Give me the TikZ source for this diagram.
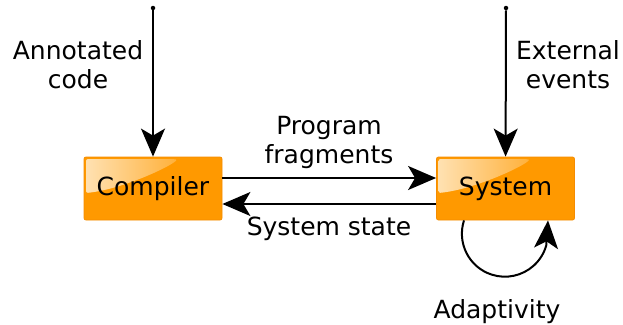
\documentclass[tikz,border=0pt]{standalone}
\usepackage{fontspec}
\setmainfont{DejaVu Sans}
\usetikzlibrary{positioning,calc}
\usetikzlibrary{arrows.meta}
\definecolor{BoxOrange}{RGB}{255,153,0}
\definecolor{BoxEdge}{RGB}{245,140,0}
\definecolor{GlossTop}{RGB}{255,226,180}
\tikzset{
	block/.style={draw=BoxEdge,fill=BoxOrange,rounded corners=2pt,line width=0.8pt,
		minimum width=138,minimum height=63,inner sep=0pt,font=\fontsize{25}{29}\selectfont,
		path picture={
			\shade[left color=GlossTop,right color=BoxOrange]
			($(path picture bounding box.north west)+(2,-2)$) -- ++(88,0)
			.. controls ++(8,-2) and ++(40,4) .. ($(path picture bounding box.north west)+(2,-36)$) -- cycle;
		}},
	flow/.style={draw=black,line width=2pt,-{Stealth[length=28pt,width=24pt,inset=7pt]}},
	tag/.style={align=center,font=\fontsize{25}{29}\selectfont,inner sep=0pt},
	src/.style={circle,fill=black,inner sep=0pt,minimum size=4.5pt},
}
\begin{document}
\begin{tikzpicture}[x=1pt,y=1pt]
	\useasboundingbox (0,0) rectangle (623,-324);
	\node[block] (comp) at (153,-188.5) {Compiler};
	\node[block] (sys) at (505.5,-188.5) {System};
	\node[src] (in1) at (153,-8) {};
	\node[src] (in2) at (506,-8) {};
	% inputs from above
	\draw[flow] (in1) -- (comp);
	\draw[flow] (in2) -- (sys);
	\node[tag] (ann) at (78,-64.5) {Annotated\\code};
	\node[tag] (ext) at (568,-64.5) {External\\events};
	% exchange between the two blocks
	\draw[flow] ([yshift=10.5]comp.east) -- ([yshift=10.5]sys.west);
	\draw[flow] ([yshift=-15.5]sys.west) -- ([yshift=-15.5]comp.east);
	\node[tag] (frag) at (329,-142) {Program\\fragments};
	\node[tag] (state) at (329,-228.5) {System state};
	% self loop below the system
	\coordinate (lp1) at ([xshift=-41.5]sys.south);
	\coordinate (lp2) at ([xshift=42.5]sys.south);
	\draw[flow] (lp1) arc[start angle=162,end angle=344,radius=43] -- (lp2);
	\node[tag] (adapt) at (497,-312) {Adaptivity};
\end{tikzpicture}
\end{document}
